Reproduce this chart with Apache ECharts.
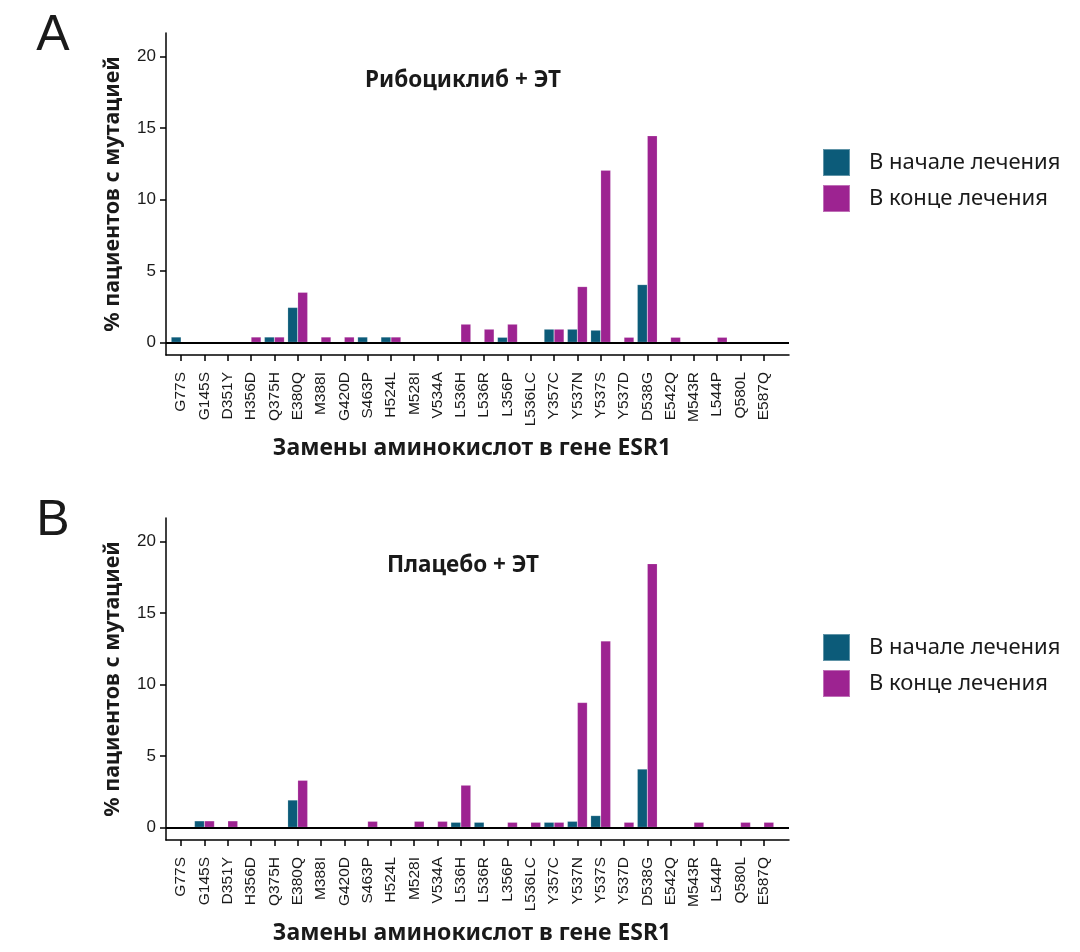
<!DOCTYPE html>
<html>
<head>
<meta charset="utf-8">
<script src="https://cdn.jsdelivr.net/npm/echarts@6/dist/echarts.min.js"></script>
<style>
  html, body { margin: 0; background: #fff; }
  #chart { width: 1080px; height: 952px; }
</style>
</head>
<body>
<div id="chart"></div>
<script>
'use strict';

/*-----------------------------------------------
|   Data
-----------------------------------------------*/

const mutations = [
  'G77S', 'G145S', 'D351Y', 'H356D', 'Q375H', 'E380Q', 'M388I', 'G420D',
  'S463P', 'H524L', 'M528I', 'V534A', 'L536H', 'L536R', 'L356P', 'L536LC',
  'Y357C', 'Y537N', 'Y537S', 'Y537D', 'D538G', 'E542Q', 'M543R', 'L544P',
  'Q580L', 'E587Q',
];
const yTicks = [0, 5, 10, 15, 20];
const seriesNames = ['В начале лечения', 'В конце лечения'];

// Рибоциклиб + ЭТ
const ribociclibStart = [
  0.37, 0, 0, 0, 0.37, 2.44, 0, 0, 0.37, 0.37, 0, 0, 0, 0, 0.35, 0,
  0.92, 0.92, 0.85, 0, 4.04, 0, 0, 0, 0, 0,
];
const ribociclibEnd = [
  0, 0, 0, 0.37, 0.37, 3.5, 0.37, 0.37, 0, 0.37, 0, 0, 1.27, 0.92, 1.27, 0,
  0.92, 3.9, 12.05, 0.35, 14.46, 0.35, 0, 0.35, 0, 0,
];

// Плацебо + ЭТ
const placeboStart = [
  0, 0.45, 0, 0, 0, 1.91, 0, 0, 0, 0, 0, 0, 0.35, 0.35, 0, 0,
  0.35, 0.42, 0.82, 0, 4.08, 0, 0, 0, 0, 0,
];
const placeboEnd = [
  0, 0.45, 0.45, 0, 0, 3.29, 0, 0, 0.42, 0, 0.42, 0.42, 2.95, 0, 0.35, 0.35,
  0.35, 8.74, 13.05, 0.35, 18.46, 0, 0.35, 0, 0.35, 0.35,
];

/*-----------------------------------------------
|   Styles
-----------------------------------------------*/

const Color = {
  START: '#0c5b79',
  END: '#9d2391',
  AXIS: '#000',
  TEXT: '#1a1a1a',
};
const Font = {
  TICK: 'Liberation Sans',
  LABEL: 'Noto Sans',
};
const panels = [
  { top: 33, title: 'Рибоциклиб + ЭТ', letter: 'A', start: ribociclibStart, end: ribociclibEnd },
  { top: 518, title: 'Плацебо + ЭТ', letter: 'B', start: placeboStart, end: placeboEnd },
];
const PANEL_HEIGHT = 322;
const GRID_LEFT = 166;
const GRID_WIDTH = 623;
const mutationIndexes = mutations.map((m, i) => i);

const toPoints = (values) => values.map((v, i) => [i, v]);

const chart = echarts.init(document.getElementById('chart'), null, { renderer: 'canvas' });

const grid = panels.map((p) => ({
  left: GRID_LEFT,
  width: GRID_WIDTH,
  top: p.top,
  height: PANEL_HEIGHT,
}));

const xAxis = panels.map((p, i) => ({
  type: 'value',
  gridIndex: i,
  min: -0.65,
  max: 26.08,
  splitLine: { show: false },
  axisLine: { onZero: false, lineStyle: { color: Color.AXIS, width: 1.5 } },
  axisTick: {
    customValues: mutationIndexes,
    length: 6,
    lineStyle: { color: Color.AXIS, width: 1.5 },
  },
  axisLabel: {
    customValues: mutationIndexes,
    rotate: 90,
    margin: 17,
    fontSize: 15.5,
    fontFamily: Font.TICK,
    color: Color.TEXT,
    formatter: (v) => mutations[Math.round(v)],
  },
}));

const yAxis = panels.map((p, i) => ({
  type: 'value',
  gridIndex: i,
  min: -0.89,
  max: 21.66,
  splitLine: { show: false },
  axisLine: { show: true, onZero: false, lineStyle: { color: Color.AXIS, width: 1.5 } },
  axisTick: {
    show: true,
    customValues: yTicks,
    length: 6,
    lineStyle: { color: Color.AXIS, width: 1.5 },
  },
  axisLabel: {
    customValues: yTicks,
    margin: 10,
    fontSize: 17,
    fontFamily: Font.TICK,
    color: Color.TEXT,
  },
}));

const series = [];
panels.forEach((p, i) => {
  series.push({
    name: seriesNames[0],
    type: 'bar',
    xAxisIndex: i,
    yAxisIndex: i,
    barWidth: 10,
    barGap: '0%',
    itemStyle: { color: Color.START, borderColor: 'rgba(255,255,255,0.35)', borderWidth: 0.5 },
    data: toPoints(p.start),
    // hline at 0 across the panel
    markLine: {
      silent: true,
      symbol: 'none',
      label: { show: false },
      lineStyle: { color: Color.AXIS, width: 2, type: 'solid' },
      data: [{ yAxis: 0 }],
    },
  });
  series.push({
    name: seriesNames[1],
    type: 'bar',
    xAxisIndex: i,
    yAxisIndex: i,
    barWidth: 10,
    barGap: '0%',
    itemStyle: { color: Color.END, borderColor: 'rgba(255,255,255,0.35)', borderWidth: 0.5 },
    data: toPoints(p.end),
  });
});

const legend = panels.map((p) => ({
  orient: 'vertical',
  left: 822,
  top: p.top + 115,
  padding: 0,
  icon: 'rect',
  itemWidth: 27,
  itemHeight: 27,
  itemGap: 7,
  selectedMode: false,
  data: seriesNames,
  textStyle: {
    fontSize: 22,
    fontFamily: Font.LABEL,
    color: Color.TEXT,
    padding: [0, 0, 0, 14],
  },
}));

const textItem = (text, x, y, font, extra = {}) => ({
  type: 'text',
  x,
  y,
  ...extra,
  style: {
    text,
    font,
    fill: Color.TEXT,
    textAlign: 'center',
    textVerticalAlign: 'middle',
    align: 'center',
    verticalAlign: 'middle',
  },
});

const graphic = [];
panels.forEach((p) => {
  const mid = p.top + PANEL_HEIGHT / 2;
  graphic.push(textItem(p.letter, 53, p.top + 3, `50px "${Font.TICK}"`));
  graphic.push(textItem(p.title, 463, p.top + 48, `bold 22.5px "${Font.LABEL}"`));
  graphic.push(
    textItem('% пациентов с мутацией', 113, mid, `bold 21.5px "${Font.LABEL}"`, {
      rotation: Math.PI / 2,
    })
  );
  graphic.push(
    textItem('Замены аминокислот в гене ESR1', 472, p.top + 415, `bold 23px "${Font.LABEL}"`)
  );
});

chart.setOption({
  animation: false,
  backgroundColor: '#fff',
  grid,
  xAxis,
  yAxis,
  legend,
  series,
  graphic,
});
</script>
</body>
</html>
